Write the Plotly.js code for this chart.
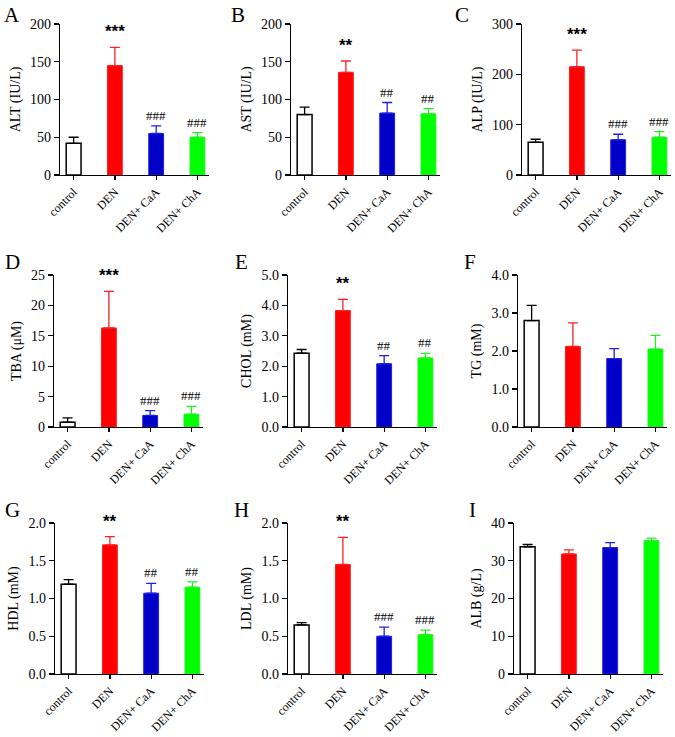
<!DOCTYPE html>
<html><head><meta charset="utf-8">
<script src="https://cdn.plot.ly/plotly-3.0.1.min.js"></script>
<style>html,body{margin:0;padding:0;background:#fff}#chart{width:675px;height:737px}</style>
</head><body><div id="chart"></div>
<script>
const categories = ['control', 'DEN', 'DEN+ CaA', 'DEN+ ChA'];
const panelLetters = ['A','B','C','D','E','F','G','H','I'];
const yTitles = ['ALT (IU/L)','AST (IU/L)','ALP (IU/L)','TBA (\u03BCM)','CHOL (mM)','TG (mM)','HDL (mM)','LDL (mM)','ALB (g/L)'];

const altMean = [42, 145, 55, 50];     const altErr = [8, 24, 10, 6];
const astMean = [80, 136, 82, 81];     const astErr = [10, 15, 14, 7];
const alpMean = [65, 215, 70, 75];     const alpErr = [6, 33, 11, 11];
const tbaMean = [0.8, 16.3, 1.9, 2.1]; const tbaErr = [0.7, 6.0, 0.8, 1.3];
const cholMean = [2.43, 3.83, 2.08, 2.27]; const cholErr = [0.12, 0.37, 0.27, 0.15];
const tgMean = [2.80, 2.12, 1.80, 2.05];   const tgErr = [0.40, 0.62, 0.26, 0.36];
const hdlMean = [1.19, 1.71, 1.07, 1.15];  const hdlErr = [0.06, 0.11, 0.13, 0.07];
const ldlMean = [0.65, 1.45, 0.50, 0.52];  const ldlErr = [0.03, 0.36, 0.12, 0.06];
const albMean = [33.7, 31.8, 33.5, 35.3];  const albErr = [0.6, 1.1, 1.3, 0.7];

const altSig = ['', '***', '###', '###'];
const astSig = ['', '**', '##', '##'];
const alpSig = ['', '***', '###', '###'];
const tbaSig = ['', '***', '###', '###'];
const cholSig = ['', '**', '##', '##'];
const tgSig = ['', '', '', ''];
const hdlSig = ['', '**', '##', '##'];
const ldlSig = ['', '**', '###', '###'];
const albSig = ['', '', '', ''];

const yMax = [200, 200, 300, 25, 5, 4, 2, 2, 40];
const yDtick = [50, 50, 100, 5, 1, 1, 0.5, 0.5, 10];
const yFormat = ['d','d','d','d','.1f','.1f','.1f','.1f','d'];

const means = [altMean, astMean, alpMean, tbaMean, cholMean, tgMean, hdlMean, ldlMean, albMean];
const errs = [altErr, astErr, alpErr, tbaErr, cholErr, tgErr, hdlErr, ldlErr, albErr];
const sigs = [altSig, astSig, alpSig, tbaSig, cholSig, tgSig, hdlSig, ldlSig, albSig];

const fills = ['#ffffff', '#ff0000', '#0000c8', '#00ff00'];
const lines = ['#000000', '#ff2020', '#2020e0', '#20f020'];

// layout geometry (pixels)
const W = 675, H = 737;
const axisX = [60, 291, 522, 54, 288, 518, 55, 288, 514];
const axW = 149;
const rowTop = [24, 275, 523];
const rowZero = [175, 427, 674];
const letterPos = [[12,15],[238,15],[462,15],[12,262],[241,262],[470,262],[12,510],[241,510],[472,510]];

const serif = 'Times New Roman';
const data = [];
const layout = {
  width: W, height: H, margin: {l:0, r:0, t:0, b:0},
  paper_bgcolor: '#fff', plot_bgcolor: 'rgba(0,0,0,0)',
  showlegend: false, bargap: 0, annotations: [],
  font: {family: serif, color: '#000', size: 14}
};

for (let p = 0; p < 9; p++) {
  const row = Math.floor(p / 3);
  const sfx = p === 0 ? '' : String(p + 1);
  const xa = 'x' + sfx, ya = 'y' + sfx;
  for (let c = 0; c < 4; c++) {
    data.push({
      type: 'bar', x: [categories[c]], y: [means[p][c]], xaxis: xa, yaxis: ya,
      width: 0.36,
      marker: {color: fills[c], line: {color: lines[c], width: c === 0 ? 1.5 : 1}},
      error_y: {type: 'data', symmetric: false, array: [errs[p][c]], arrayminus: [0],
                color: lines[c], thickness: 1.3, width: 5},
      hoverinfo: 'none'
    });
    if (sigs[p][c]) {
      const star = sigs[p][c].indexOf('*') >= 0;
      layout.annotations.push({
        xref: xa, yref: ya, x: categories[c], y: means[p][c] + errs[p][c],
        text: star ? '<b>' + sigs[p][c] + '</b>' : sigs[p][c],
        showarrow: false, yanchor: 'bottom', yshift: star ? 4 : 1,
        font: star ? {family: 'Arial', size: 17, color: '#000'}
                   : {family: serif, size: 13, color: '#000'}
      });
    }
  }
  layout['xaxis' + sfx] = {
    anchor: ya, domain: [axisX[p] / W, (axisX[p] + axW) / W],
    type: 'category', categoryorder: 'array', categoryarray: categories,
    range: [-0.33, 3.28], showline: true, linecolor: '#000', linewidth: 1.3,
    ticks: 'outside', ticklen: 4, tickcolor: '#000', tickwidth: 1.3,
    tickangle: -45, tickfont: {family: serif, size: 12, color: '#000'},
    showgrid: false, zeroline: false, fixedrange: true
  };
  layout['yaxis' + sfx] = {
    anchor: xa, domain: [1 - rowZero[row] / H, 1 - rowTop[row] / H],
    range: [0, yMax[p]], dtick: yDtick[p], tick0: 0, tickformat: yFormat[p],
    showline: true, linecolor: '#000', linewidth: 1.3,
    ticks: 'outside', ticklen: 5, tickcolor: '#000', tickwidth: 1.3,
    tickfont: {family: serif, size: 14, color: '#000'},
    title: {text: yTitles[p], font: {family: serif, size: 14, color: '#000'}, standoff: 6},
    showgrid: false, zeroline: false, fixedrange: true
  };
  layout.annotations.push({
    xref: 'paper', yref: 'paper', x: letterPos[p][0] / W, y: 1 - letterPos[p][1] / H,
    text: panelLetters[p], showarrow: false, xanchor: 'center', yanchor: 'middle',
    font: {family: serif, size: 21, color: '#000'}
  });
}

Plotly.newPlot('chart', data, layout, {displayModeBar: false, staticPlot: true});
</script></body></html>
